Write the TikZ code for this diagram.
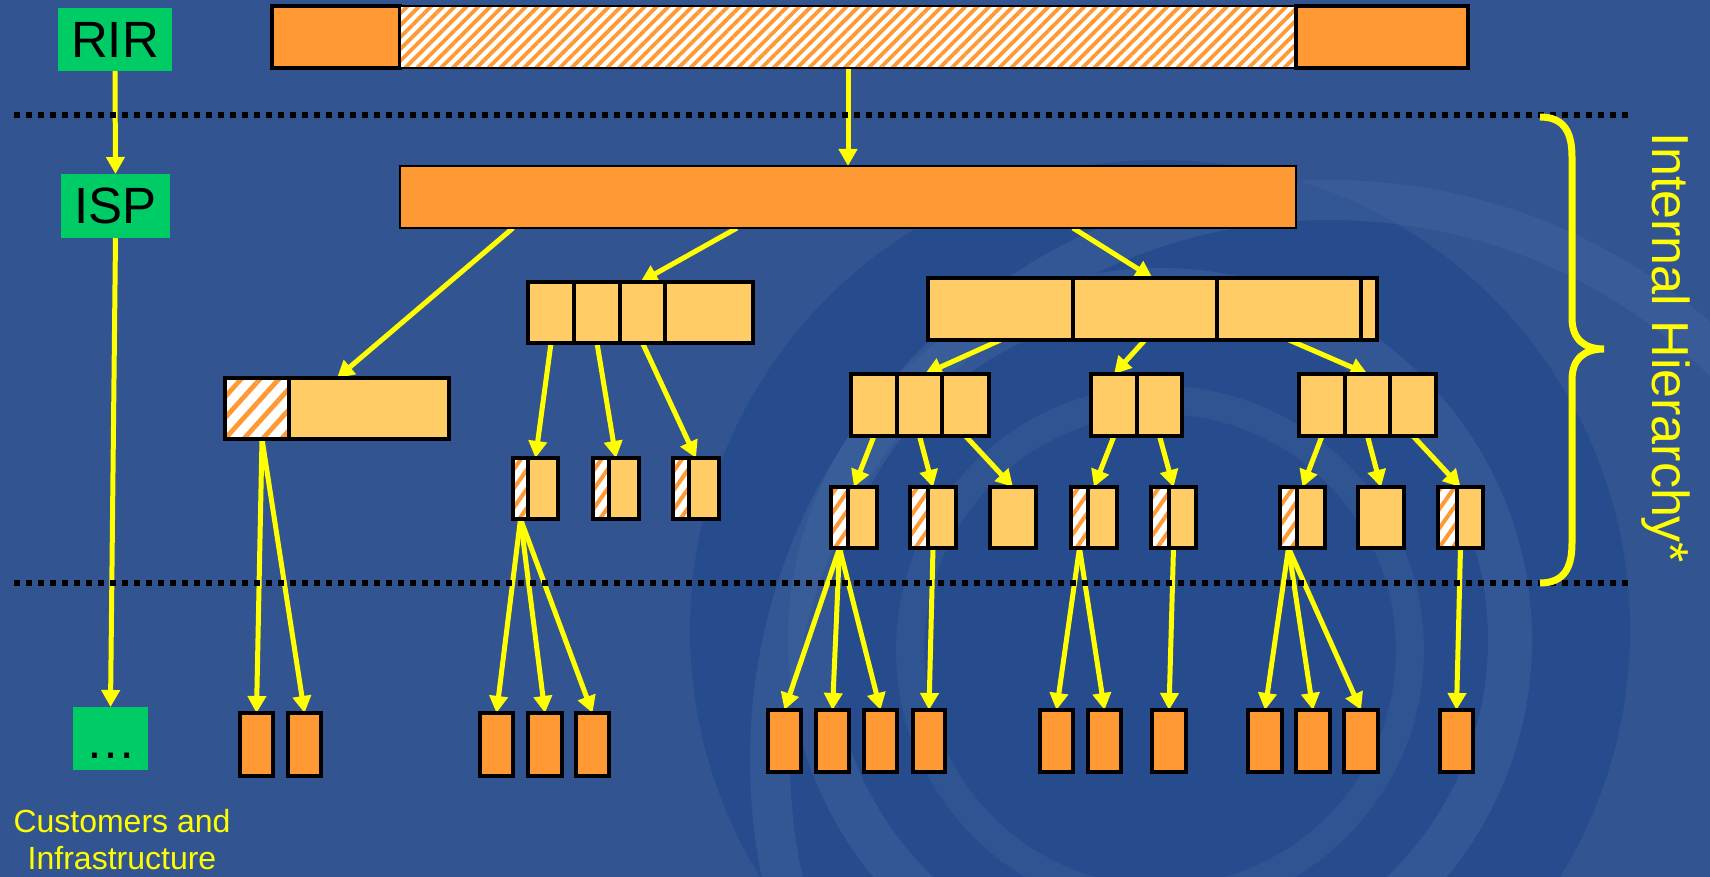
\documentclass[tikz,border=0pt]{standalone}
\usepackage{fontspec}
\setmainfont{Liberation Sans}
\usetikzlibrary{arrows.meta,fit,calc,patterns.meta}
\definecolor{bgblue}{RGB}{50,84,144}
\definecolor{bgdark}{RGB}{36,74,140}
\definecolor{bglite}{RGB}{64,99,158}
\definecolor{orD}{RGB}{255,153,51}
\definecolor{orL}{RGB}{255,204,102}
\definecolor{grn}{RGB}{0,204,102}
\definecolor{ylw}{RGB}{255,255,0}
\pgfdeclarelayer{back}\pgfdeclarelayer{mid}\pgfsetlayers{back,mid,main}
\tikzset{
 cellbase/.style={rectangle, inner sep=0pt, outer sep=0pt, draw=black, line width=1.7pt},
 dk/.style={cellbase, fill=orD},
 lt/.style={cellbase, fill=orL},
 hbig/.style={cellbase, line width=1.4pt, preaction={fill=white}, pattern={Lines[angle=45,distance=4.2pt,line width=1.9pt]}, pattern color=orD},
 hlg/.style={cellbase, preaction={fill=white}, pattern={Lines[angle=48,distance=7pt,line width=2.4pt]}, pattern color=orD},
 hsm/.style={cellbase, preaction={fill=white}, pattern={Lines[angle=55,distance=5.5pt,line width=2pt]}, pattern color=orD},
 grp/.style={rectangle, inner sep=0pt, outer sep=0pt},
 gbox/.style={rectangle, inner sep=0pt, outer sep=0pt, fill=grn, font=\fontsize{25.5}{30}\selectfont},
 arr/.style={draw=ylw, line width=2.5pt, -{Triangle[length=8.5pt,width=9pt]}},
 sepline/.style={draw=black, line width=2.8pt, dash pattern=on 3pt off 3pt},
}
\newcommand\mkbox[6]{\node[#2, fit={(#3,#4) (#5,#6)}] (#1) {};}
\begin{document}
\begin{tikzpicture}[x=0.5pt,y=-0.5pt]
\useasboundingbox (0,0) rectangle (1710,877);
\begin{pgfonlayer}{back}
\fill[bgblue] (0,0) rectangle (1710,877);
\begin{scope}
\clip (0,0) rectangle (1710,877);
\fill[bgdark, opacity=0.75] (1160,630) circle[radius=470];
\draw[bglite, opacity=0.5, line width=22pt] (1160,640) circle[radius=350];
\draw[bglite, opacity=0.35, line width=14pt] (1160,650) circle[radius=250];
\draw[bglite, opacity=0.5, line width=20pt] (1330,760) circle[radius=560];
\end{scope}
\end{pgfonlayer}

% left column labels
\node[gbox, minimum width=57pt, minimum height=31.5pt] (rir) at (115,39.5) {RIR};
\node[gbox, minimum width=54.5pt, minimum height=32pt] (isp) at (115.5,206) {ISP};
\node[gbox, minimum width=37.5pt, minimum height=31.5pt, text height=19.5pt, text depth=0pt] (dots) at (110.5,738.5) {…};
\node[text=ylw, align=center, inner sep=0pt, font=\fontsize{16}{18.5}\selectfont] (cust) at (122,840) {Customers and\\Infrastructure};
\node[rotate=-90, text=ylw, inner sep=0pt, font=\fontsize{26}{30}\selectfont] (ih) at (1666,348) {Internal Hierarchy*};

% separators and brace
\draw[sepline] (14,115) -- (1628,115);
\draw[sepline] (14,583) -- (1628,583);
\draw[ylw, line width=3.5pt] (1540,117) .. controls (1566,117) and (1572,135) .. (1572,157) -- (1572,318)
  .. controls (1572,340) and (1585,349) .. (1604,349)
  .. controls (1585,349) and (1572,358) .. (1572,380) -- (1572,543)
  .. controls (1572,565) and (1566,583) .. (1540,583);

% RIR allocation
\mkbox{tb1}{dk}{272}{6}{400}{68}
\mkbox{tb2}{hbig}{400}{6}{1296}{68}
\mkbox{tb3}{dk}{1296}{6}{1468}{68}
% ISP block
\node[dk, line width=1.4pt, fit={(400,166) (1296,228)}] (ib) {};

% left branch
\mkbox{lbh}{hlg}{225}{378}{289}{439}
\mkbox{lbl}{lt}{289}{378}{449}{439}
\mkbox{lb}{grp}{225}{378}{449}{439}

% middle branch
\mkbox{mb1}{lt}{528}{282}{574}{343}
\mkbox{mb2}{lt}{574}{282}{620}{343}
\mkbox{mb3}{lt}{620}{282}{665}{343}
\mkbox{mb4}{lt}{665}{282}{753}{343}
\mkbox{mb}{grp}{528}{282}{753}{343}
\mkbox{s1h}{hsm}{513}{458}{528}{519}
\mkbox{s1l}{lt}{528}{458}{558}{519}
\mkbox{s1}{grp}{513}{458}{558}{519}
\mkbox{s2h}{hsm}{593}{458}{609}{519}
\mkbox{s2l}{lt}{609}{458}{639}{519}
\mkbox{s2}{grp}{593}{458}{639}{519}
\mkbox{s3h}{hsm}{673}{458}{689}{519}
\mkbox{s3l}{lt}{689}{458}{719}{519}
\mkbox{s3}{grp}{673}{458}{719}{519}

% right branch
\mkbox{rb1}{lt}{928}{278}{1073}{340}
\mkbox{rb2}{lt}{1073}{278}{1217}{340}
\mkbox{rb3}{lt}{1217}{278}{1361}{340}
\mkbox{rb4}{lt}{1361}{278}{1377}{340}
\mkbox{rb}{grp}{928}{278}{1377}{340}
\mkbox{sA1}{lt}{851}{374}{897}{436}
\mkbox{sA2}{lt}{897}{374}{942}{436}
\mkbox{sA3}{lt}{942}{374}{989}{436}
\mkbox{sA}{grp}{851}{374}{989}{436}
\mkbox{sB1}{lt}{1091}{374}{1137}{436}
\mkbox{sB2}{lt}{1137}{374}{1182}{436}
\mkbox{sC1}{lt}{1299}{374}{1345}{436}
\mkbox{sC2}{lt}{1345}{374}{1390}{436}
\mkbox{sC3}{lt}{1390}{374}{1436}{436}
\mkbox{sC}{grp}{1299}{374}{1436}{436}
\mkbox{r1h}{hsm}{831}{487}{848}{548}
\mkbox{r1l}{lt}{848}{487}{877}{548}
\mkbox{r1}{grp}{831}{487}{877}{548}
\mkbox{r2h}{hsm}{910}{487}{928}{548}
\mkbox{r2l}{lt}{928}{487}{956}{548}
\mkbox{r2}{grp}{910}{487}{956}{548}
\mkbox{r3}{lt}{990}{487}{1036}{548}
\mkbox{r4h}{hsm}{1071}{487}{1088}{548}
\mkbox{r4l}{lt}{1088}{487}{1117}{548}
\mkbox{r4}{grp}{1071}{487}{1117}{548}
\mkbox{r5h}{hsm}{1151}{487}{1169}{548}
\mkbox{r5l}{lt}{1169}{487}{1196}{548}
\mkbox{r5}{grp}{1151}{487}{1196}{548}
\mkbox{r6h}{hsm}{1280}{487}{1297}{548}
\mkbox{r6l}{lt}{1297}{487}{1325}{548}
\mkbox{r6}{grp}{1280}{487}{1325}{548}
\mkbox{r7}{lt}{1358}{487}{1404}{548}
\mkbox{r8h}{hsm}{1438}{487}{1457}{548}
\mkbox{r8l}{lt}{1457}{487}{1483}{548}
\mkbox{r8}{grp}{1438}{487}{1483}{548}

% leaves
\mkbox{L1}{dk}{240}{713}{273}{776}
\mkbox{L2}{dk}{288}{713}{321}{776}
\mkbox{L3}{dk}{480}{713}{513}{776}
\mkbox{L4}{dk}{528}{713}{562}{776}
\mkbox{L5}{dk}{576}{713}{609}{776}
\mkbox{L6}{dk}{768}{710}{801}{772}
\mkbox{L7}{dk}{816}{710}{849}{772}
\mkbox{L8}{dk}{864}{710}{897}{772}
\mkbox{L9}{dk}{913}{710}{945}{772}
\mkbox{L10}{dk}{1040}{710}{1073}{772}
\mkbox{L11}{dk}{1088}{710}{1121}{772}
\mkbox{L12}{dk}{1152}{710}{1186}{772}
\mkbox{L13}{dk}{1248}{710}{1282}{772}
\mkbox{L14}{dk}{1296}{710}{1330}{772}
\mkbox{L15}{dk}{1344}{710}{1378}{772}
\mkbox{L16}{dk}{1440}{710}{1473}{772}

% connectors
\begin{pgfonlayer}{mid}
\draw[arr] (rir.south) -- (isp.north);
\draw[arr] (isp.south) -- (dots.north);
\draw[arr] (tb2.south) -- (ib.north);
\draw[arr] ($(ib.south west)+(113,0)$) -- (lb.north);
\draw[arr] ($(ib.south west)+(337,0)$) -- (mb.north);
\draw[arr] ($(ib.south west)+(673,0)$) -- (rb.north);
\draw[arr] (mb1.south) -- (s1.north);
\draw[arr] (mb2.south) -- (s2.north);
\draw[arr] (mb3.south) -- (s3.north);
\draw[arr] ($(lbh.south)+(5,0)$) -- (L1.north);
\draw[arr] ($(lbh.south)+(5,0)$) -- (L2.north);
\draw[arr] (s1h.south) -- (L3.north);
\draw[arr] (s1h.south) -- (L4.north);
\draw[arr] (s1h.south) -- (L5.north);
\draw[arr] (rb1.south) -- ($(sA.north)+(5,0)$);
\draw[arr] (rb2.south) -- (sB1.north);
\draw[arr] (rb3.south) -- (sC.north);
\draw[arr] (sA1.south) -- (r1.north);
\draw[arr] (sA2.south) -- (r2.north);
\draw[arr] (sA3.south) -- (r3.north);
\draw[arr] (sB1.south) -- (r4.north);
\draw[arr] (sB2.south) -- (r5.north);
\draw[arr] (sC1.south) -- (r6.north);
\draw[arr] (sC2.south) -- (r7.north);
\draw[arr] (sC3.south) -- (r8.north);
\draw[arr] (r1h.south) -- (L6.north);
\draw[arr] (r1h.south) -- (L7.north);
\draw[arr] (r1h.south) -- (L8.north);
\draw[arr] (r2.south) -- (L9.north);
\draw[arr] (r4h.south) -- (L10.north);
\draw[arr] (r4h.south) -- (L11.north);
\draw[arr] (r5.south) -- (L12.north);
\draw[arr] (r6h.south) -- (L13.north);
\draw[arr] (r6h.south) -- (L14.north);
\draw[arr] (r6h.south) -- (L15.north);
\draw[arr] (r8.south) -- (L16.north);
\end{pgfonlayer}
\end{tikzpicture}
\end{document}
